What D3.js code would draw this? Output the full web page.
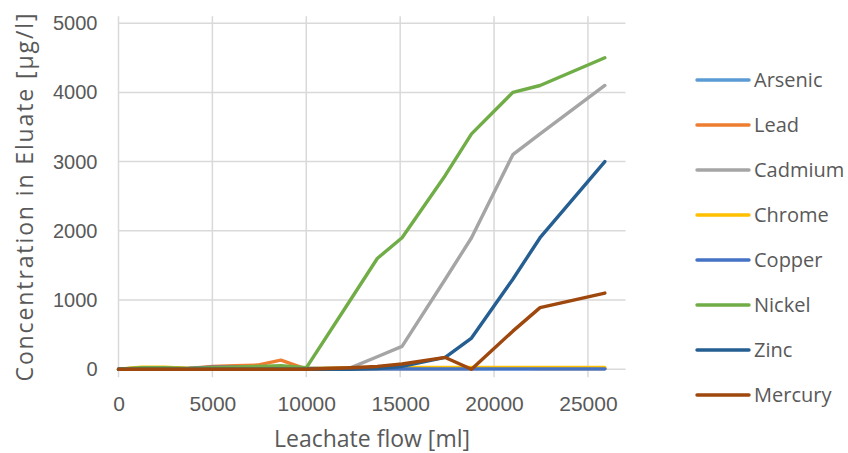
<!DOCTYPE html>
<html>
<head>
<meta charset="utf-8">
<script src="https://cdn.jsdelivr.net/npm/d3@7"></script>
<style>
  html, body { margin: 0; padding: 0; background: #fff; }
  svg { display: block; font-family: "Open Sans", "Liberation Sans", sans-serif; }
</style>
</head>
<body>
<svg id="chart" width="848" height="453"></svg>
<script>
// ---- data ----
const flow = [0, 1250, 2500, 3700, 5000, 6200, 7400, 8650, 10000, 12350, 13780, 15100, 17400, 18800, 21000, 22450, 25900];
const arsenic = [0, 5, 5, 5, 5, 5, 5, 5, 5, 5, 5, 5, 5, 5, 5, 5, 5];
const lead    = [0, 20, 20, 10, 40, 50, 60, 130, 0, 10, 10, 10, 10, 10, 20, 10, 10];
const cadmium = [0, 0, 0, 0, 0, 0, 0, 0, 0, 20, 180, 330, 1300, 1900, 3100, 3400, 4100];
const chrome  = [0, 30, 30, 10, 10, 10, 10, 10, 10, 20, 20, 25, 25, 25, 25, 25, 25];
const copper  = [0, 0, 0, 10, 30, 30, 20, 10, 10, 10, 5, 5, 5, 5, 5, 5, 5];
const nickel  = [0, 20, 20, 10, 20, 30, 40, 50, 20, 1000, 1600, 1900, 2800, 3400, 4000, 4100, 4500];
const zinc    = [0, 0, 0, 0, 0, 0, 0, 0, 0, 0, 10, 40, 170, 450, 1300, 1900, 3000];
const mercury = [0, 0, 0, 0, 0, 0, 0, 0, 0, 20, 40, 75, 170, 0, 550, 890, 1100];

const seriesNames = ["Arsenic", "Lead", "Cadmium", "Chrome", "Copper", "Nickel", "Zinc", "Mercury"];
const seriesValues = [arsenic, lead, cadmium, chrome, copper, nickel, zinc, mercury];
const colors = ["#5B9BD5", "#ED7D31", "#A5A5A5", "#FFC000", "#4472C4", "#70AD47", "#255E91", "#9E480E"];
const xTicks = [0, 5000, 10000, 15000, 20000, 25000];
const yTicks = [0, 1000, 2000, 3000, 4000, 5000];

// ---- layout ----
const svg = d3.select("#chart");
const x = d3.scaleLinear().domain([0, 27000]).range([118.5, 625.5]);
const y = d3.scaleLinear().domain([0, 5000]).range([369.2, 23.2]);
const textColor = "#595959";
const gridColor = "#D9D9D9";

// horizontal gridlines + y labels
const yAxis = d3.axisLeft(y).tickValues(yTicks).tickSize(0).tickPadding(21).tickFormat(d3.format("d"));
const gy = svg.append("g").attr("transform", `translate(${x(0)},0)`).call(yAxis);
gy.select(".domain").remove();
gy.selectAll("text").attr("fill", textColor).style("font-size", "20px");
svg.append("g").selectAll("line").data(yTicks).join("line")
  .attr("x1", x(0)).attr("x2", x(27000))
  .attr("y1", d => y(d)).attr("y2", d => y(d))
  .attr("stroke", gridColor).attr("stroke-width", 1.5);

// vertical gridlines + x labels
svg.append("g").selectAll("line").data(xTicks).join("line")
  .attr("x1", d => x(d)).attr("x2", d => x(d))
  .attr("y1", y(5100)).attr("y2", y(-115))
  .attr("stroke", gridColor).attr("stroke-width", 1.5);
const xAxis = d3.axisBottom(x).tickValues(xTicks).tickSize(0).tickPadding(27).tickFormat(d3.format("d"));
const gx = svg.append("g").attr("transform", `translate(0,${y(0)})`).call(xAxis);
gx.select(".domain").remove();
gx.selectAll("text").attr("fill", textColor).style("font-size", "21px");

// axis titles
svg.append("text").attr("x", 372).attr("y", 447).attr("text-anchor", "middle")
  .attr("fill", textColor).style("font-size", "23px").text("Leachate flow [ml]");
svg.append("text").attr("transform", "translate(33,197.5) rotate(-90)").attr("text-anchor", "middle")
  .attr("fill", textColor).style("font-size", "23px")
  .attr("textLength", 368).attr("lengthAdjust", "spacing")
  .text("Concentration in Eluate [µg/l]");

// lines
const line = d3.line().x((d, i) => x(flow[i])).y(d => y(d));
svg.append("g").selectAll("path").data(seriesValues).join("path")
  .attr("d", d => line(d))
  .attr("fill", "none")
  .attr("stroke", (d, i) => colors[i])
  .attr("stroke-width", 3.4)
  .attr("stroke-linejoin", "round")
  .attr("stroke-linecap", "round");

// legend
const lg = svg.append("g").selectAll("g").data(seriesNames).join("g")
  .attr("transform", (d, i) => `translate(0,${80 + i * 45})`);
lg.append("line").attr("x1", 697).attr("x2", 749).attr("y1", 0).attr("y2", 0)
  .attr("stroke", (d, i) => colors[i]).attr("stroke-width", 3.4).attr("stroke-linecap", "round");
lg.append("text").attr("x", 754).attr("y", 0).attr("dy", "0.35em")
  .attr("fill", textColor).style("font-size", "20px").text(d => d);
</script>
</body>
</html>
